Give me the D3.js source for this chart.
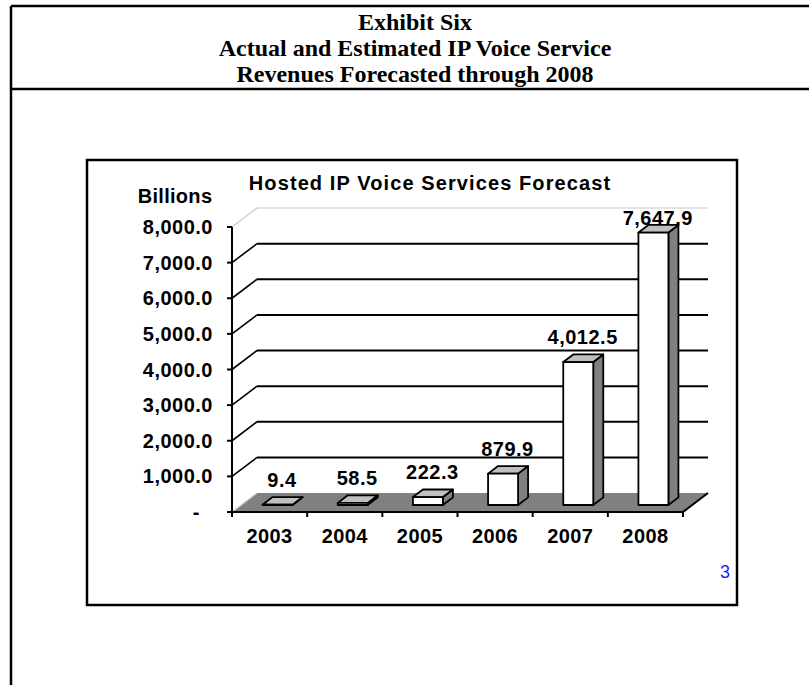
<!DOCTYPE html>
<html>
<head>
<meta charset="utf-8">
<script src="https://cdnjs.cloudflare.com/ajax/libs/d3/7.8.5/d3.min.js"></script>
<style>
  html, body { margin: 0; padding: 0; background: #fff; }
  svg { display: block; }
</style>
</head>
<body>
<script>
// ---------- data ----------
const headerLines = ["Exhibit Six", "Actual and Estimated IP Voice Service", "Revenues Forecasted through 2008"];
const chartTitle = "Hosted IP Voice Services Forecast";
const unitLabel = "Billions";
const years = ["2003", "2004", "2005", "2006", "2007", "2008"];
const revenues = [9.4, 58.5, 222.3, 879.9, 4012.5, 7647.9];
const yTicks = [0, 1000, 2000, 3000, 4000, 5000, 6000, 7000, 8000];
const pageNumber = "3";

// ---------- layout ----------
const W = 809, H = 685;
const svg = d3.select("body").append("svg").attr("width", W).attr("height", H);

// outer frame
const frame = svg.append("g").attr("fill", "none").attr("stroke", "#000").attr("stroke-width", 2.5);
frame.append("line").attr("x1", 11).attr("x2", W + 5).attr("y1", 6).attr("y2", 6);
frame.append("line").attr("x1", 11).attr("x2", 11).attr("y1", 6).attr("y2", H + 5);
frame.append("line").attr("x1", 11).attr("x2", W + 5).attr("y1", 89).attr("y2", 89);

// header
const headerBaselines = [30, 56, 82];
svg.append("g").selectAll("text").data(headerLines).join("text")
  .attr("x", 415).attr("y", (d, i) => headerBaselines[i])
  .attr("text-anchor", "middle")
  .attr("font-family", "'Liberation Serif', 'Times New Roman', serif")
  .attr("font-weight", "bold").attr("font-size", 24)
  .text(d => d);

// chart box
svg.append("rect").attr("x", 87).attr("y", 160).attr("width", 650).attr("height", 445)
  .attr("fill", "#fff").attr("stroke", "#000").attr("stroke-width", 2.5);

const sans = "'Liberation Sans', Arial, sans-serif";

// scales
const x = d3.scaleBand().domain(years).range([232, 683]).padding(0);
const y = d3.scaleLinear().domain([0, 8000]).range([512, 227]);
const fmt = d3.format(",.1f");

// 3D offsets
const DX = 25, DY = -19;          // wall depth
const FX = 9.2, FY = -7;          // bar front offset
const BX = 10, BY = -7.6;         // bar depth
const barW = 30;

const g = svg.append("g");

// side wall diagonals and back wall gridlines
const gridTicks = yTicks.filter(t => t > 0);
g.selectAll("line.back").data(gridTicks).join("line").attr("class", "back")
  .attr("x1", x.range()[0] + DX).attr("x2", x.range()[1] + DX)
  .attr("y1", d => y(d) + DY).attr("y2", d => y(d) + DY)
  .attr("stroke", d => d === 8000 ? "#c8c8c8" : "#000")
  .attr("stroke-width", d => d === 8000 ? 1.2 : 2);
g.selectAll("line.side").data(yTicks).join("line").attr("class", "side")
  .attr("x1", x.range()[0]).attr("x2", x.range()[0] + DX)
  .attr("y1", d => y(d)).attr("y2", d => y(d) + DY)
  .attr("stroke", d => (d === 8000 || d === 0) ? "#c8c8c8" : "#000")
  .attr("stroke-width", d => (d === 8000 || d === 0) ? 1.2 : 1.6);

// floor
const x0 = x.range()[0], x1 = x.range()[1], y0 = y(0);
g.append("polygon")
  .attr("points", [[x0, y0], [x1, y0], [x1 + DX, y0 + DY], [x0 + DX, y0 + DY]].map(p => p.join(",")).join(" "))
  .attr("fill", "#808080");
g.append("line").attr("x1", x0).attr("y1", y0).attr("x2", x0 + DX).attr("y2", y0 + DY)
  .attr("stroke", "#d8d8d8").attr("stroke-width", 1.2);

// bars
const bars = g.selectAll("g.bar").data(years.map((yr, i) => ({ yr, v: revenues[i] }))).join("g").attr("class", "bar");
bars.each(function (d) {
  const sel = d3.select(this);
  const xl = x(d.yr) + (x.bandwidth() - barW) / 2 - 1.2 + FX;
  const xr = xl + barW;
  const yt = y(d.v) + FY;
  const yb = y(0) + FY;
  const common = s => s.attr("stroke", "#000").attr("stroke-width", 1.8).attr("stroke-linejoin", "round");
  common(sel.append("polygon")
    .attr("points", [[xr, yt], [xr + BX, yt + BY], [xr + BX, yb + BY], [xr, yb]].map(p => p.join(",")).join(" "))
    .attr("fill", "#808080"));
  common(sel.append("polygon")
    .attr("points", [[xl, yt], [xl + BX, yt + BY], [xr + BX, yt + BY], [xr, yt]].map(p => p.join(",")).join(" "))
    .attr("fill", "#c0c0c0"));
  common(sel.append("rect").attr("x", xl).attr("y", yt).attr("width", barW).attr("height", Math.max(0, yb - yt))
    .attr("fill", "#fff"));
});

// axes
const ax = svg.append("g").attr("stroke", "#000").attr("stroke-width", 2);
ax.append("line").attr("x1", x0).attr("x2", x0).attr("y1", y(8000)).attr("y2", y0 + 1);
ax.selectAll("line.yt").data(yTicks).join("line").attr("class", "yt")
  .attr("x1", x0 - 5).attr("x2", x0).attr("y1", d => y(d)).attr("y2", d => y(d));
ax.append("line").attr("x1", x0).attr("x2", x1).attr("y1", y0).attr("y2", y0);
ax.append("line").attr("x1", x1).attr("x2", x1 + DX).attr("y1", y0).attr("y2", y0 + DY);
const xTickPos = years.map(yr => x(yr)).concat([x1]);
ax.selectAll("line.xt").data(xTickPos).join("line").attr("class", "xt")
  .attr("x1", d => d).attr("x2", d => d).attr("y1", y0).attr("y2", y0 + 5);

// y tick labels
svg.append("g").selectAll("text").data(yTicks).join("text")
  .attr("x", d => d === 0 ? 200 : 213)
  .attr("y", d => y(d)).attr("dy", "0.35em")
  .attr("text-anchor", "end")
  .attr("font-family", sans).attr("font-weight", "bold").attr("font-size", 20)
  .attr("letter-spacing", 0.5)
  .text(d => d === 0 ? "-" : fmt(d));

// unit label
svg.append("text").attr("x", 175).attr("y", 203).attr("text-anchor", "middle")
  .attr("font-family", sans).attr("font-weight", "bold").attr("font-size", 20).attr("letter-spacing", 0.3)
  .text(unitLabel);

// chart title
svg.append("text").attr("x", 430).attr("y", 190).attr("text-anchor", "middle")
  .attr("font-family", sans).attr("font-weight", "bold").attr("font-size", 20).attr("letter-spacing", 1.1)
  .text(chartTitle);

// x labels
svg.append("g").selectAll("text").data(years).join("text")
  .attr("x", d => x(d) + x.bandwidth() / 2).attr("y", 543)
  .attr("text-anchor", "middle")
  .attr("font-family", sans).attr("font-weight", "bold").attr("font-size", 20).attr("letter-spacing", 0.4)
  .text(d => d);

// value labels
svg.append("g").selectAll("text").data(years.map((yr, i) => ({ yr, v: revenues[i] }))).join("text")
  .attr("x", d => x(d.yr) + x.bandwidth() / 2 + 12.4)
  .attr("y", d => Math.max(y(d.v) + FY + BY - 10, y(8000) - 2))
  .attr("text-anchor", "middle")
  .attr("font-family", sans).attr("font-weight", "bold").attr("font-size", 20).attr("letter-spacing", 0.5)
  .text(d => fmt(d.v));

// page number
svg.append("text").attr("x", 730).attr("y", 578).attr("text-anchor", "end")
  .attr("font-family", sans).attr("font-size", 18).attr("fill", "#1a1aff")
  .text(pageNumber);
</script>
</body>
</html>
